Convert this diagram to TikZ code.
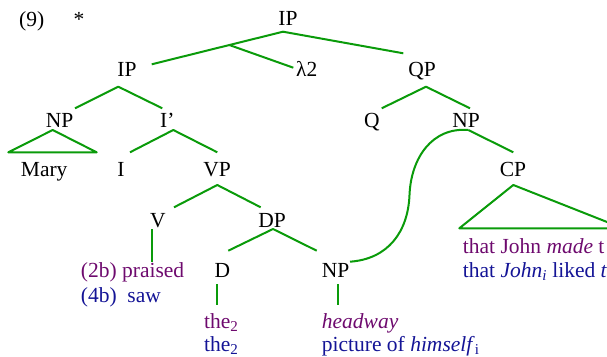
\documentclass[tikz,border=0pt]{standalone}
\usepackage{fontspec}
\setmainfont{Liberation Serif}
\definecolor{tgreen}{RGB}{10,155,10}
\definecolor{tpurple}{RGB}{110,10,110}
\definecolor{tblue}{RGB}{20,20,150}
\begin{document}
\begin{tikzpicture}[x=1pt,y=-1pt,
  lab/.style={inner sep=0pt, anchor=base, font=\fontsize{21.5}{24}\selectfont},
  labl/.style={lab, anchor=base west},
  br/.style={draw=tgreen, line width=2pt, line join=round}]
\useasboundingbox (0,0) rectangle (607,356);
\clip (0,0) rectangle (607,356);
% labels
\node[labl] (num) at (19,26) {(9)};
\node[lab] (star) at (79,27) {*};
\node[lab] (ip) at (288,25) {IP};
\node[lab] (ipl) at (127,76) {IP};
\node[labl] (lam) at (296,76) {λ2};
\node[lab] (qp) at (422,76) {QP};
\node[lab] (np1) at (59.5,127) {NP};
\node[labl] (ibar) at (160,127) {I’};
\node[lab] (q) at (372,127) {Q};
\node[lab] (np2) at (466,127) {NP};
\node[labl] (mary) at (20.7,176) {Mary};
\node[lab] (i) at (121,176) {I};
\node[lab] (vp) at (217,176) {VP};
\node[lab] (cp) at (513,176) {CP};
\node[lab] (v) at (158,227) {V};
\node[lab] (dp) at (272,227) {DP};
\node[labl, text=tpurple] (praised) at (80.7,277) {(2b) praised};
\node[labl, text=tblue] (saw) at (80.7,302) {(4b)\ \ saw};
\node[lab] (d) at (222.5,277) {D};
\node[labl] (np3) at (321.7,277) {NP};
\node[labl, text=tpurple] (that1) at (462.7,253) {that John \textit{made} t};
\node[labl, text=tblue] (that2) at (462.7,277) {that \textit{John}\textsubscript{\textit{i}} liked \textit{t}};
\node[labl, text=tpurple] (the1) at (204,328) {the\textsubscript{2}};
\node[labl, text=tblue] (the2) at (204,351) {the\textsubscript{2}};
\node[labl, text=tpurple] (head) at (321.7,328) {\textit{headway}};
\node[labl, text=tblue] (pic) at (321.7,351) {picture of \textit{himself}\textsubscript{i}};
% branch points
\coordinate (ipA) at (283,31.7);
\coordinate (iplE) at (151.7,64.3);
\coordinate (qpE) at (403.3,53.3);
\coordinate (lamB) at (229.3,45);
\coordinate (lamE) at (293.3,67.7);
\coordinate (iplA) at (118.3,86.7);
\coordinate (np1E) at (75,108.3);
\coordinate (ibarE) at (162.3,108.3);
\coordinate (qpA) at (426,86.7);
\coordinate (qE) at (381.7,108.3);
\coordinate (np2E) at (470,108.3);
\coordinate (np1A) at (52.7,130);
\coordinate (np1L) at (8.3,152.3);
\coordinate (np1R) at (96.7,152.3);
\coordinate (ibarA) at (173.3,130);
\coordinate (iE) at (130,152.3);
\coordinate (vpE) at (217.3,152.3);
\coordinate (np2A) at (468.3,130);
\coordinate (cpE) at (513.3,152.3);
\coordinate (cpA) at (513.3,185);
\coordinate (cpL) at (459.3,228.3);
\coordinate (cpR) at (623,228.3);
\coordinate (vpA) at (217.3,185);
\coordinate (vE) at (174,207.3);
\coordinate (dpE) at (260.7,207.3);
\coordinate (vT) at (151.7,229);
\coordinate (vB) at (151.7,261.7);
\coordinate (dpA) at (273,229);
\coordinate (dE) at (228.3,250.7);
\coordinate (np3E) at (316.7,250.7);
\coordinate (dT) at (217.3,284);
\coordinate (dB) at (217.3,305);
\coordinate (np3T) at (338.3,284);
\coordinate (np3B) at (338.3,305);
\coordinate (curveM) at (409.5,195);
\coordinate (curveE) at (350,261.7);
% branches
\draw[br] (iplE) -- (ipA) -- (qpE);
\draw[br] (lamB) -- (lamE);
\draw[br] (np1E) -- (iplA) -- (ibarE);
\draw[br] (qE) -- (qpA) -- (np2E);
\draw[br] (np1A) -- (np1L) -- (np1R) -- cycle;
\draw[br] (iE) -- (ibarA) -- (vpE);
\draw[br] (np2A) -- (cpE);
\draw[br] (np2A) .. controls (432,127) and (411,158) .. (curveM)
  .. controls (408,232) and (388,259) .. (curveE);
\draw[br] (cpA) -- (cpL) -- (cpR) -- cycle;
\draw[br] (vE) -- (vpA) -- (dpE);
\draw[br] (vT) -- (vB);
\draw[br] (dE) -- (dpA) -- (np3E);
\draw[br] (dT) -- (dB);
\draw[br] (np3T) -- (np3B);
\end{tikzpicture}
\end{document}
